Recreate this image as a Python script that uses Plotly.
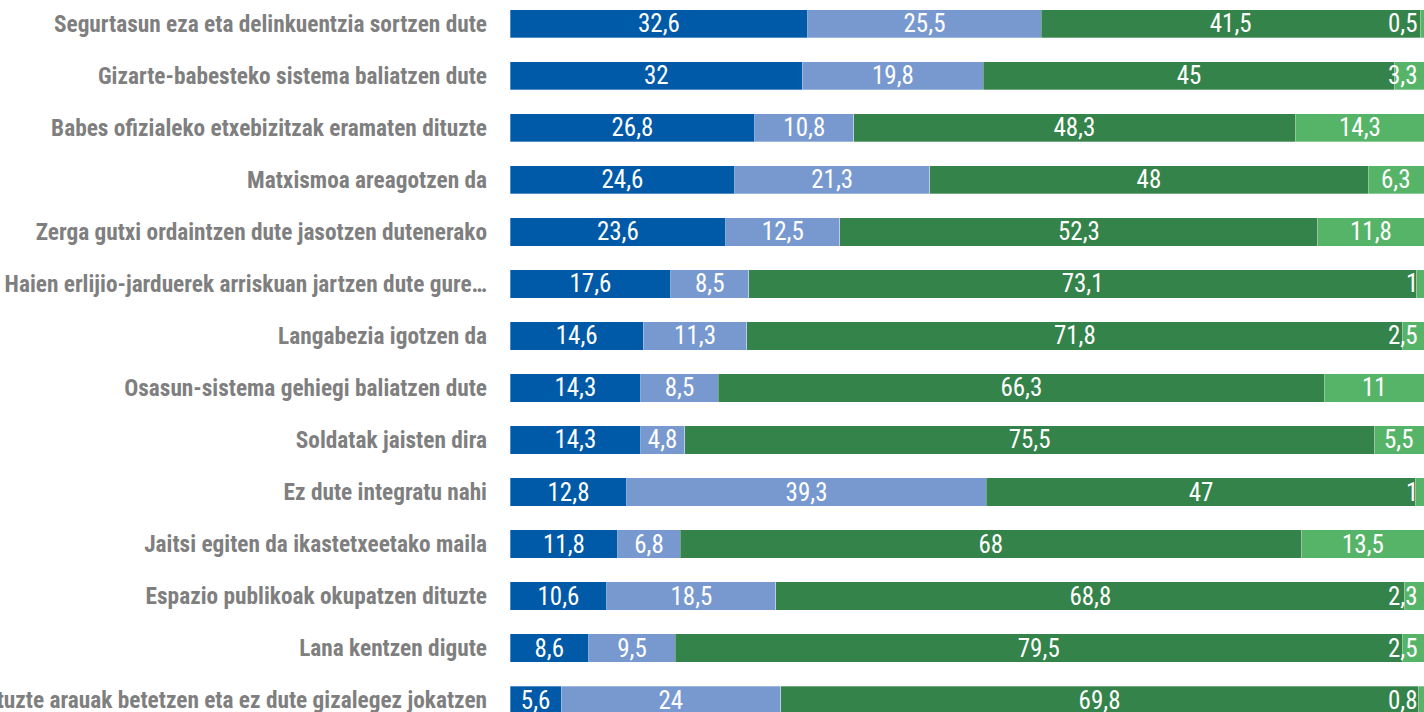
import plotly.graph_objects as go

categories = [
    "Segurtasun eza eta delinkuentzia sortzen dute",
    "Gizarte-babesteko sistema baliatzen dute",
    "Babes ofizialeko etxebizitzak eramaten dituzte",
    "Matxismoa areagotzen da",
    "Zerga gutxi ordaintzen dute jasotzen dutenerako",
    "Haien erlijio-jarduerek arriskuan jartzen dute gure…",
    "Langabezia igotzen da",
    "Osasun-sistema gehiegi baliatzen dute",
    "Soldatak jaisten dira",
    "Ez dute integratu nahi",
    "Jaitsi egiten da ikastetxeetako maila",
    "Espazio publikoak okupatzen dituzte",
    "Lana kentzen digute",
    "Ez dituzte arauak betetzen eta ez dute gizalegez jokatzen",
]

series_names = ["Bai, asko", "Bai, zertxobait", "Ez", "Ed/Ee"]
values_1 = [32.6, 32, 26.8, 24.6, 23.6, 17.6, 14.6, 14.3, 14.3, 12.8, 11.8, 10.6, 8.6, 5.6]
values_2 = [25.5, 19.8, 10.8, 21.3, 12.5, 8.5, 11.3, 8.5, 4.8, 39.3, 6.8, 18.5, 9.5, 24]
values_3 = [41.5, 45, 48.3, 48, 52.3, 73.1, 71.8, 66.3, 75.5, 47, 68, 68.8, 79.5, 69.8]
values_4 = [0.5, 3.3, 14.3, 6.3, 11.8, 1, 2.5, 11, 5.5, 1, 13.5, 2.3, 2.5, 0.8]

colors = ["#005aa8", "#7899cf", "#34834a", "#56b468"]

FONT = "'Liberation Sans Narrow', 'Roboto Condensed', 'DejaVu Sans Condensed', sans-serif"
LABEL_SIZE = 23.3
VALUE_SIZE = 25


def fmt(v):
    return f"{v:g}".replace(".", ",")


fig = go.Figure()
all_series = [values_1, values_2, values_3, values_4]
for i, (name, vals) in enumerate(zip(series_names, all_series)):
    fig.add_trace(go.Bar(
        y=categories,
        x=vals,
        name=name,
        orientation="h",
        width=0.54,
        marker=dict(color=colors[i], line=dict(color="rgba(255,255,255,0.5)", width=0.6)),
        text=[fmt(v) for v in vals] if i < 3 else None,
        textposition="inside" if i < 3 else "none",
        insidetextanchor="middle",
        textangle=0,
        constraintext="none",
        insidetextfont=dict(family=FONT, size=VALUE_SIZE, color="white"),
        hoverinfo="y+x+name",
    ))

# Last series labels: centred on the visible part of the segment,
# pushed against the right edge when the segment is too narrow.
XMAX = 100
for cat, a, b, c, d in zip(categories, values_1, values_2, values_3, values_4):
    start = a + b + c
    end = min(start + d, XMAX)
    if d < 4:
        fig.add_annotation(x=end, y=cat, text=fmt(d), showarrow=False,
                           xanchor="right", xshift=-4,
                           font=dict(family=FONT, size=VALUE_SIZE, color="white"))
    else:
        fig.add_annotation(x=(start + end) / 2, y=cat, text=fmt(d), showarrow=False,
                           xanchor="center",
                           font=dict(family=FONT, size=VALUE_SIZE, color="white"))

fig.update_layout(
    barmode="stack",
    width=1424,
    height=712,
    margin=dict(l=510, r=0, t=0, b=0),
    paper_bgcolor="white",
    plot_bgcolor="white",
    showlegend=False,
    xaxis=dict(range=[0, XMAX], visible=False, fixedrange=True),
    yaxis=dict(
        type="category",
        range=[13.23, -0.46],
        showgrid=False,
        zeroline=False,
        showline=False,
        ticks="",
        ticklabelstandoff=22,
        tickfont=dict(family=FONT, size=LABEL_SIZE, color="#7f7f7f", weight="bold"),
        automargin=False,
    ),
)

fig.write_html("out.html")
